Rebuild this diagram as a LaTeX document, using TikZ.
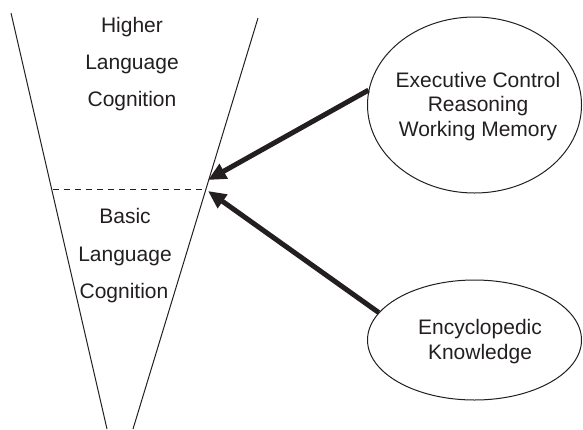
\documentclass[tikz,border=0pt]{standalone}
\usepackage{fontspec}
\setmainfont{Liberation Sans}
\usetikzlibrary{shapes.geometric,arrows.meta}
\definecolor{ink}{HTML}{231F20}
\begin{document}
\begin{tikzpicture}[x=1pt,y=-1pt,
  funnel/.style={draw=ink,line width=1pt},
  lbl/.style={anchor=base,text=ink,font=\fontsize{21}{25}\selectfont,inner sep=0pt},
  bubble/.style={ellipse,draw=ink,line width=1pt,inner sep=0pt},
  bubtext/.style={align=center,text=ink,inner sep=0pt,font=\fontsize{21}{24.5}\selectfont},
  bigarrow/.style={draw=ink,fill=ink,line width=5pt,-{Triangle[length=18pt,width=16pt]}}]
\useasboundingbox (0,0) rectangle (583,429);
% funnel
\coordinate (lt) at (11,13);
\coordinate (lb) at (107,429);
\coordinate (rt) at (258,18);
\coordinate (rb) at (133,429);
\draw[funnel] (lt) -- (lb);
\draw[funnel] (rt) -- (rb);
\coordinate (dl) at (53,189);
\coordinate (dr) at (205,189);
\draw[draw=ink,line width=0.9pt,dash pattern=on 6pt off 5pt] (dl) -- (dr);
% labels
\node[lbl] (h1) at (132,32) {Higher};
\node[lbl] (h2) at (132,69) {Language};
\node[lbl] (h3) at (132,106) {Cognition};
\node[lbl] (b1) at (125,223) {Basic};
\node[lbl] (b2) at (125,261) {Language};
\node[lbl] (b3) at (124,298) {Cognition};
% ellipses
\node[bubble,minimum width=214pt,minimum height=176pt] (e1) at (474.5,105) {};
\node[bubtext] (e1t) at (478,106.5) {Executive Control\\Reasoning\\Working Memory};
\node[bubble,minimum width=214pt,minimum height=120pt] (e2) at (474.5,340) {};
\node[bubtext] (e2t) at (480,341.5) {Encyclopedic\\Knowledge};
% arrows
\coordinate (t1) at (208,180);
\coordinate (t2) at (208,191);
\draw[bigarrow] (e1.172) -- (t1);
\draw[bigarrow] (e2.164) -- (t2);
\end{tikzpicture}
\end{document}
